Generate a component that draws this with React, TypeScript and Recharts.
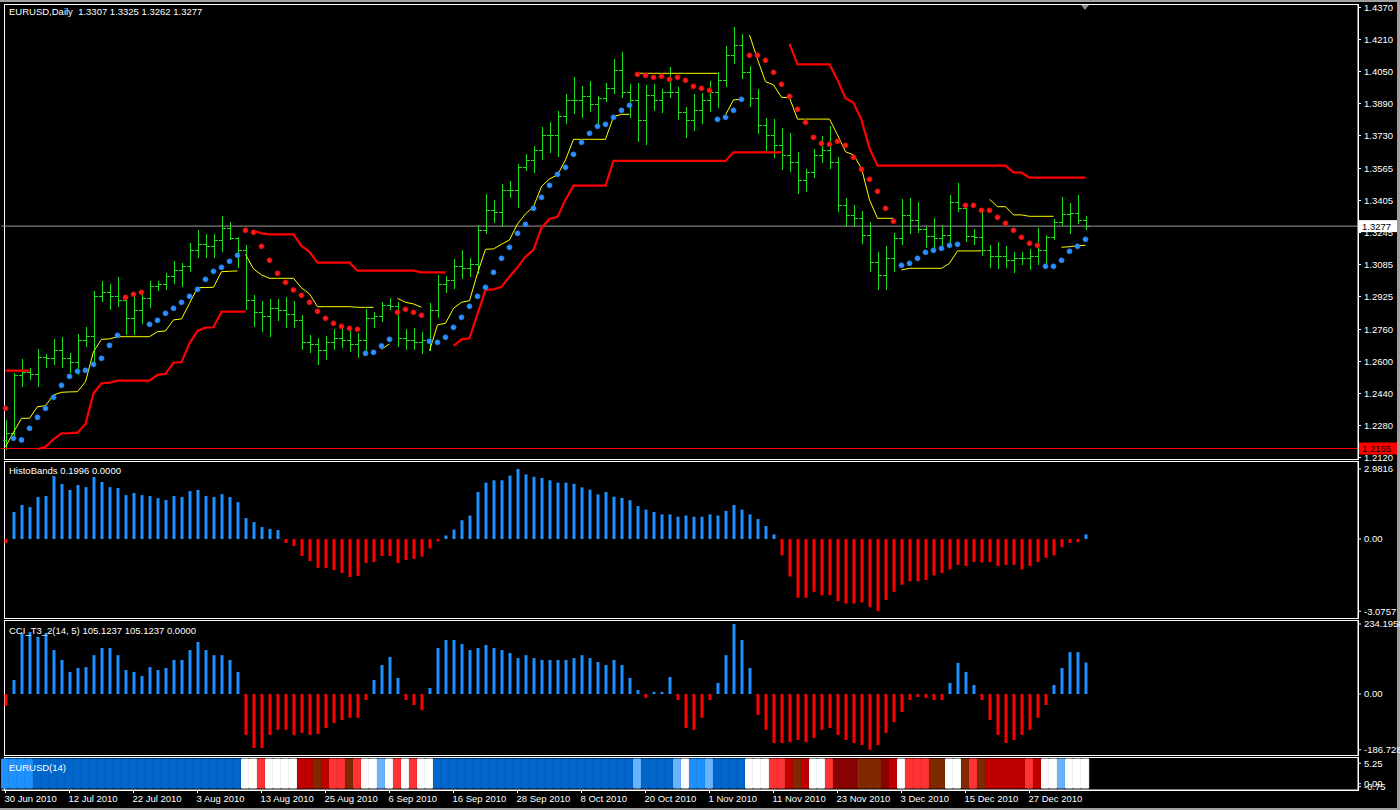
import React from 'react';
import { ComposedChart, Bar, Line, XAxis, YAxis, Cell, ReferenceLine } from 'recharts';

const FONT = '"Liberation Sans", Arial, sans-serif';
const SLOTS = 169;
const GREEN = '#1AE01A';
const BLUE = '#1E90FF';
const RED = '#FF0000';

// ---------- time axis ----------
const dateTicks = [0, 8, 16, 24, 32, 40, 48, 56, 64, 72, 80, 88, 96, 104, 112, 120, 128];
const dateLabels = [
  '30 Jun 2010', '12 Jul 2010', '22 Jul 2010', '3 Aug 2010', '13 Aug 2010', '25 Aug 2010',
  '6 Sep 2010', '16 Sep 2010', '28 Sep 2010', '8 Oct 2010', '20 Oct 2010', '1 Nov 2010',
  '11 Nov 2010', '23 Nov 2010', '3 Dec 2010', '15 Dec 2010', '27 Dec 2010',
];

// ---------- price bars (EURUSD daily) ----------
const open = [
  1.2208, 1.2243, 1.2533, 1.2548, 1.2538, 1.2623, 1.2618, 1.2658, 1.2618, 1.2598,
  1.2708, 1.2728, 1.2928, 1.2948, 1.2928, 1.2908, 1.2818, 1.2858, 1.2918, 1.2978,
  1.2988, 1.3028, 1.3058, 1.3078, 1.3158, 1.3188, 1.3178, 1.3208, 1.3268, 1.3218,
  1.3158, 1.2908, 1.2848, 1.2828, 1.2868, 1.2858, 1.2838, 1.2808, 1.2698, 1.2688,
  1.2658, 1.2698, 1.2718, 1.2708, 1.2688, 1.2708, 1.2818, 1.2828, 1.2883, 1.2878,
  1.2718, 1.2708, 1.2698, 1.2708, 1.2858, 1.2988, 1.3008, 1.3078, 1.3068, 1.3088,
  1.3258, 1.3358, 1.3348, 1.3458, 1.3458, 1.3573, 1.3608, 1.3658, 1.3733, 1.3733,
  1.3828, 1.3908, 1.3908, 1.3928, 1.3888, 1.3918, 1.3968, 1.4058, 1.3948, 1.3908,
  1.3808, 1.3933, 1.3908, 1.3948, 1.3948, 1.3848, 1.3808, 1.3858, 1.3908, 1.3948,
  1.4008, 1.4133, 1.4183, 1.4048, 1.3918, 1.3783, 1.3733, 1.3683, 1.3633, 1.3598,
  1.3508, 1.3548, 1.3633, 1.3658, 1.3598, 1.3383, 1.3333, 1.3318, 1.3233, 1.3098,
  1.3033, 1.3118, 1.3218, 1.3333, 1.3308, 1.3263, 1.3228, 1.3218, 1.3233, 1.3398,
  1.3368, 1.3228, 1.3223, 1.3158, 1.3128, 1.3128, 1.3108, 1.3118, 1.3118, 1.3128,
  1.3158, 1.3223, 1.3298, 1.3338, 1.3343, 1.3307,
];
const high = [
  1.2308, 1.2543, 1.2613, 1.2568, 1.2663, 1.2638, 1.2713, 1.2723, 1.2643, 1.2738,
  1.2773, 1.2953, 1.3003, 1.2988, 1.3023, 1.2933, 1.2943, 1.2958, 1.3003, 1.3003,
  1.3043, 1.3103, 1.3093, 1.3193, 1.3258, 1.3238, 1.3238, 1.3328, 1.3298, 1.3223,
  1.3183, 1.2933, 1.2903, 1.2913, 1.2913, 1.2923, 1.2903, 1.2833, 1.2733, 1.2718,
  1.2728, 1.2763, 1.2773, 1.2758, 1.2743, 1.2863, 1.2848, 1.2898, 1.2918, 1.2898,
  1.2763, 1.2768, 1.2748, 1.2893, 1.3033, 1.3028, 1.3113, 1.3158, 1.3118, 1.3283,
  1.3438, 1.3408, 1.3488, 1.3503, 1.3588, 1.3638, 1.3678, 1.3773, 1.3798, 1.3853,
  1.3938, 1.4023, 1.3978, 1.4003, 1.3928, 1.3993, 1.4113, 1.4148, 1.3988, 1.3993,
  1.3983, 1.3988, 1.3963, 1.4073, 1.3973, 1.3873, 1.3938, 1.3943, 1.4003, 1.4048,
  1.4178, 1.4273, 1.4238, 1.4078, 1.3963, 1.3818, 1.3813, 1.3768, 1.3743, 1.3648,
  1.3563, 1.3663, 1.3728, 1.3778, 1.3623, 1.3418, 1.3383, 1.3353, 1.3298, 1.3148,
  1.3178, 1.3243, 1.3413, 1.3418, 1.3398, 1.3278, 1.3318, 1.3283, 1.3433, 1.3493,
  1.3378, 1.3263, 1.3353, 1.3183, 1.3198, 1.3178, 1.3148, 1.3148, 1.3163, 1.3268,
  1.3233, 1.3313, 1.3423, 1.3393, 1.3433, 1.3325,
];
const low = [
  1.2165, 1.2213, 1.2478, 1.2513, 1.2478, 1.2573, 1.2588, 1.2573, 1.2548, 1.2538,
  1.2678, 1.2588, 1.2903, 1.2863, 1.2878, 1.2738, 1.2738, 1.2793, 1.2873, 1.2958,
  1.2963, 1.2993, 1.2978, 1.3053, 1.3123, 1.3123, 1.3123, 1.3153, 1.3213, 1.3073,
  1.2863, 1.2778, 1.2753, 1.2728, 1.2808, 1.2773, 1.2773, 1.2663, 1.2648, 1.2588,
  1.2613, 1.2663, 1.2673, 1.2653, 1.2623, 1.2658, 1.2773, 1.2803, 1.2863, 1.2678,
  1.2663, 1.2663, 1.2643, 1.2658, 1.2823, 1.2948, 1.2968, 1.3018, 1.3028, 1.3043,
  1.3243, 1.3298, 1.3278, 1.3423, 1.3373, 1.3558, 1.3548, 1.3613, 1.3648, 1.3628,
  1.3793, 1.3843, 1.3823, 1.3853, 1.3788, 1.3903, 1.3943, 1.3923, 1.3823, 1.3703,
  1.3688, 1.3858, 1.3848, 1.3923, 1.3813, 1.3723, 1.3758, 1.3793, 1.3853, 1.3873,
  1.3978, 1.4093, 1.4018, 1.3878, 1.3743, 1.3658, 1.3623, 1.3563, 1.3553, 1.3443,
  1.3453, 1.3523, 1.3598, 1.3568, 1.3353, 1.3278, 1.3278, 1.3193, 1.3053, 1.2963,
  1.2963, 1.3053, 1.3188, 1.3243, 1.3248, 1.3173, 1.3158, 1.3173, 1.3193, 1.3353,
  1.3203, 1.3188, 1.3133, 1.3073, 1.3068, 1.3073, 1.3048, 1.3088, 1.3063, 1.3088,
  1.3088, 1.3213, 1.3283, 1.3243, 1.3293, 1.3262,
];
const close = [
  1.2243, 1.2533, 1.2548, 1.2538, 1.2623, 1.2618, 1.2658, 1.2618, 1.2598, 1.2708,
  1.2728, 1.2928, 1.2948, 1.2928, 1.2908, 1.2818, 1.2858, 1.2918, 1.2978, 1.2988,
  1.3028, 1.3058, 1.3078, 1.3158, 1.3188, 1.3178, 1.3208, 1.3268, 1.3218, 1.3158,
  1.2908, 1.2848, 1.2828, 1.2868, 1.2858, 1.2838, 1.2808, 1.2698, 1.2688, 1.2658,
  1.2698, 1.2718, 1.2708, 1.2688, 1.2708, 1.2818, 1.2828, 1.2883, 1.2878, 1.2718,
  1.2708, 1.2698, 1.2708, 1.2858, 1.2988, 1.3008, 1.3078, 1.3068, 1.3088, 1.3258,
  1.3358, 1.3348, 1.3458, 1.3458, 1.3573, 1.3608, 1.3658, 1.3733, 1.3733, 1.3828,
  1.3908, 1.3908, 1.3928, 1.3888, 1.3918, 1.3968, 1.4058, 1.3948, 1.3908, 1.3808,
  1.3933, 1.3908, 1.3948, 1.3948, 1.3848, 1.3808, 1.3858, 1.3908, 1.3948, 1.4008,
  1.4133, 1.4183, 1.4048, 1.3918, 1.3783, 1.3733, 1.3683, 1.3633, 1.3598, 1.3508,
  1.3548, 1.3633, 1.3658, 1.3598, 1.3383, 1.3333, 1.3318, 1.3233, 1.3098, 1.3033,
  1.3118, 1.3218, 1.3333, 1.3308, 1.3263, 1.3228, 1.3218, 1.3233, 1.3398, 1.3368,
  1.3228, 1.3223, 1.3158, 1.3128, 1.3128, 1.3108, 1.3118, 1.3118, 1.3128, 1.3158,
  1.3223, 1.3298, 1.3338, 1.3343, 1.3307, 1.3277,
];

// ---------- parabolic dots ----------
const sar = [
  1.2366, 1.2216, 1.2208, 1.2266, 1.2321, 1.2366, 1.2421, 1.2481, 1.2526, 1.2551,
  1.2556, 1.2586, 1.2616, 1.2681, 1.2731, 1.2921, 1.2936, 1.2946, 1.2786, 1.2806,
  1.2841, 1.2866, 1.2896, 1.2926, 1.2961, 1.3011, 1.3051, 1.3071, 1.3101, 1.3131,
  1.3256, 1.3246, 1.3176, 1.3106, 1.3041, 1.2996, 1.2958, 1.2931, 1.2896, 1.2851,
  1.2816, 1.2791, 1.2776, 1.2766, 1.2761, 1.2641, 1.2646, 1.2678, 1.2711, 1.2846,
  1.2861, 1.2846, 1.2831, 1.2701, 1.2696, 1.2721, 1.2771, 1.2821, 1.2876, 1.2926,
  1.2971, 1.3046, 1.3116, 1.3171, 1.3241, 1.3286, 1.3366, 1.3421, 1.3481, 1.3536,
  1.3571, 1.3636, 1.3696, 1.3741, 1.3776, 1.3786, 1.3821, 1.3856, 1.3881, 1.4036,
  1.4031, 1.4021, 1.4026, 1.4011, 1.4021, 1.4006, 1.3976, 1.3966, 1.3956, 1.3811,
  1.3821, 1.3856, 1.3911, 1.4131, 1.4131, 1.4106, 1.4046, 1.3986, 1.3926, 1.3861,
  1.3796, 1.3721, 1.3691, 1.3686, 1.3701, 1.3681, 1.3621, 1.3561, 1.3511, 1.3451,
  1.3366, 1.3301, 1.3081, 1.3091, 1.3116, 1.3146, 1.3156, 1.3166, 1.3181, 1.3186,
  1.3381, 1.3381, 1.3356, 1.3356, 1.3321, 1.3291, 1.3256, 1.3221, 1.3191, 1.3181,
  1.3076, 1.3076, 1.3106, 1.3151, 1.3176, 1.3211,
];

// ---------- thin yellow stop line (segments: start index, values) ----------
const yellowSegments: [number, number[]][] = [
  [0, [1.2174, 1.2246, 1.2316, 1.2316, 1.2374, 1.2379, 1.2433, 1.2446, 1.2448, 1.2449,
    1.2499, 1.2649, 1.2711, 1.2713, 1.2724, 1.2724, 1.2724, 1.2724, 1.2724, 1.2749,
    1.2753, 1.2808, 1.2813, 1.2891, 1.2969, 1.2970, 1.2971, 1.3049, 1.3051, 1.3053]],
  [30, [1.3136, 1.3063, 1.3033, 1.3016, 1.3016, 1.3016, 1.3016, 1.2968, 1.2938, 1.2874,
    1.2874, 1.2874, 1.2874, 1.2874, 1.2871, 1.2871, 1.2871]],
  [47, [1.2661, 1.2688]],
  [49, [1.2916, 1.2896, 1.2888, 1.2871]],
  [53, [1.2654, 1.2783, 1.2791, 1.2866, 1.2896, 1.2904, 1.3041, 1.3161, 1.3163, 1.3186,
    1.3208, 1.3288, 1.3338, 1.3374, 1.3475, 1.3513, 1.3533, 1.3608, 1.3711, 1.3711,
    1.3711, 1.3711, 1.3711, 1.3824, 1.3836, 1.3836]],
  [79, [1.4041, 1.4041, 1.4041, 1.4041, 1.4041, 1.4041, 1.4041, 1.4041, 1.4041, 1.4041, 1.4041]],
  [90, [1.3833, 1.3908, 1.3911]],
  [93, [1.4233, 1.4111, 1.3999, 1.3983, 1.3921, 1.3919, 1.3812, 1.3812, 1.3812, 1.3812,
    1.3812, 1.3733, 1.3649, 1.3633, 1.3566, 1.3408, 1.3316, 1.3316, 1.3316]],
  [112, [1.3058, 1.3066, 1.3066, 1.3066, 1.3066, 1.3066, 1.3091, 1.3153, 1.3153, 1.3153, 1.3153]],
  [123, [1.3411, 1.3374, 1.3374, 1.3333, 1.3333, 1.3326, 1.3326, 1.3326, 1.3326]],
  [132, [1.3171, 1.3174, 1.3179, 1.3181]],
];

// ---------- thick red band line (segments) ----------
const redSegments: [number, number[]][] = [
  [0, [1.2554, 1.2554, 1.2554, 1.2554]],
  [4, [1.2161, 1.2174, 1.2211, 1.2241, 1.2242, 1.2244, 1.2288, 1.2441, 1.2491, 1.2494,
    1.2504, 1.2504, 1.2504, 1.2504, 1.2504, 1.2533, 1.2538, 1.2594, 1.2596, 1.2691,
    1.2753, 1.2769, 1.2771, 1.2849, 1.2849, 1.2849, 1.2849]],
  [31, [1.3254, 1.3241, 1.3236, 1.3236, 1.3236, 1.3236, 1.3178, 1.3148, 1.3094, 1.3094,
    1.3094, 1.3094, 1.3094, 1.3054, 1.3054, 1.3054, 1.3054, 1.3054, 1.3054, 1.3054,
    1.3054, 1.3046, 1.3046, 1.3046, 1.3046]],
  [56, [1.2678, 1.2711, 1.2716, 1.2838, 1.2958, 1.2961, 1.2974, 1.3024, 1.3071, 1.3124,
    1.3158, 1.3268, 1.3313, 1.3324, 1.3408, 1.3479, 1.3479, 1.3479, 1.3479, 1.3479,
    1.3603, 1.3603, 1.3603, 1.3603, 1.3603, 1.3603, 1.3603, 1.3603, 1.3603, 1.3603,
    1.3603, 1.3603, 1.3603, 1.3603, 1.3603, 1.3646, 1.3646, 1.3646, 1.3646, 1.3646,
    1.3646, 1.3646]],
  [98, [1.4188, 1.4086, 1.4086, 1.4086, 1.4086, 1.4086, 1.4008, 1.3916, 1.3894, 1.3808,
    1.3666, 1.3579, 1.3579, 1.3579, 1.3579, 1.3579, 1.3579, 1.3579, 1.3579, 1.3579,
    1.3579, 1.3579, 1.3579, 1.3579, 1.3579, 1.3579, 1.3579, 1.3579, 1.3546, 1.3544,
    1.3519, 1.3519, 1.3519, 1.3519, 1.3519, 1.3519, 1.3519, 1.3519]],
];

// ---------- HistoBands ----------
const histo = [
  -0.18, 1.15, 1.45, 1.36, 1.79, 1.83, 2.68, 2.34, 2.09, 2.30,
  2.21, 2.64, 2.43, 2.21, 2.17, 1.87, 1.96, 1.87, 1.83, 1.74,
  1.66, 1.83, 1.79, 2.04, 2.09, 1.83, 1.79, 1.91, 1.79, 1.57,
  0.89, 0.72, 0.51, 0.43, 0.38, -0.17, -0.30, -0.72, -0.94, -1.23,
  -1.23, -1.32, -1.45, -1.62, -1.57, -1.02, -0.98, -0.72, -0.72, -1.02,
  -0.90, -0.85, -0.75, -0.40, -0.10, 0.15, 0.40, 0.80, 1.00, 2.00,
  2.40, 2.50, 2.50, 2.70, 2.9816, 2.75, 2.65, 2.60, 2.50, 2.40,
  2.40, 2.35, 2.20, 2.10, 1.90, 2.00, 1.80, 1.75, 1.65, 1.40,
  1.25, 1.15, 1.05, 1.05, 0.95, 1.00, 0.95, 0.95, 1.05, 1.00,
  1.20, 1.45, 1.25, 1.05, 0.85, 0.55, 0.20, -0.70, -1.60, -2.50,
  -2.50, -2.25, -2.40, -2.40, -2.65, -2.75, -2.75, -2.70, -2.90, -3.0757,
  -2.60, -2.25, -1.95, -1.80, -1.80, -1.75, -1.55, -1.45, -1.30, -1.10,
  -1.15, -0.98, -1.00, -0.98, -1.15, -1.10, -1.10, -1.30, -1.15, -0.98,
  -0.80, -0.70, -0.35, -0.17, -0.13, 0.1996,
];

// ---------- CCI_T3_2(14, 5) ----------
const cci = [
  -40, 47, 204, 207, 191, 204, 147, 114, 74, 87,
  90, 130, 154, 154, 130, 80, 74, 60, 90, 80,
  87, 114, 114, 147, 174, 147, 130, 130, 114, 74,
  -137, -181, -181, -137, -120, -120, -137, -130, -137, -134,
  -114, -97, -87, -80, -80, -20, 47, 97, 124, 54,
  -20, -37, -54, 20, 154, 181, 181, 167, 147, 154,
  164, 154, 147, 137, 120, 130, 120, 114, 114, 114,
  114, 120, 130, 120, 107, 97, 114, 97, 54, 13,
  -13, 7, 7, 57, -20, -114, -120, -80, -20, 37,
  130, 234.1958, 181, 87, -70, -120, -164, -164, -161, -154,
  -161, -147, -120, -114, -137, -154, -164, -171, -186.728, -171,
  -130, -94, -60, -20, -10, -13, -20, -20, 37, 104,
  74, 30, -20, -87, -137, -164, -154, -137, -120, -80,
  -37, 30, 87, 140, 140, 105.1237,
];

// ---------- EURUSD(14) colour strip ----------
const stripCodes = [
  'D', 'D', 'D', 'D', 'B', 'B', 'B', 'B', 'B', 'B',
  'B', 'B', 'B', 'B', 'B', 'B', 'B', 'B', 'B', 'B',
  'B', 'B', 'B', 'B', 'B', 'B', 'B', 'B', 'B', 'B',
  'W', 'W', 'R', 'W', 'W', 'W', 'W', 'C', 'C', 'N',
  'C', 'R', 'R', 'N', 'R', 'W', 'W', 'L', 'W', 'R',
  'W', 'R', 'W', 'W', 'B', 'B', 'B', 'B', 'B', 'B',
  'B', 'B', 'B', 'B', 'B', 'B', 'B', 'B', 'B', 'B',
  'B', 'B', 'B', 'B', 'B', 'B', 'B', 'B', 'B', 'L',
  'B', 'B', 'B', 'B', 'L', 'W', 'D', 'D', 'L', 'B',
  'B', 'B', 'B', 'W', 'W', 'W', 'R', 'R', 'C', 'N',
  'C', 'W', 'W', 'R', 'K', 'K', 'K', 'N', 'N', 'N',
  'K', 'C', 'W', 'R', 'R', 'R', 'N', 'N', 'W', 'W',
  'N', 'R', 'N', 'C', 'C', 'C', 'C', 'C', 'R', 'C',
  'W', 'W', 'L', 'W', 'W', 'W',
];
const stripPalette: Record<string, string> = {
  B: '#0066CC', D: '#1E90FF', L: '#6AB4FF', W: '#FFFFFF',
  R: '#FF3333', C: '#C00000', K: '#8B0000', N: '#802800',
};
const STRIP_RANGE = [-1.1, 6.35];

// ---------- axis ticks ----------
const priceTicks = [1.4370, 1.4210, 1.4050, 1.3890, 1.3730, 1.3565, 1.3405, 1.3245,
  1.3085, 1.2925, 1.2760, 1.2600, 1.2440, 1.2280, 1.2120];
const histTicks = [2.9816, 0, -3.0757];
const cciTicks = [234.1958, 0, -186.728];
const stripTicks = [5.25, 0, -0.75];
const BID = 1.3277;
const LOW_MARK = 1.2165;

// ---------- build table ----------
const spread = (segs: [number, number[]][]) => {
  const a: (number | null)[] = new Array(SLOTS).fill(null);
  const b: (number | null)[] = new Array(SLOTS).fill(null);
  segs.forEach(([start, vals], k) => {
    const t = k % 2 === 0 ? a : b;
    vals.forEach((v, j) => { t[start + j] = v; });
  });
  return [a, b];
};
const [yellowA, yellowB] = spread(yellowSegments);
const [redA, redB] = spread(redSegments);

const rows = Array.from({ length: SLOTS }, (_, i) => {
  const has = i < close.length;
  return {
    i,
    o: has ? open[i] : null,
    h: has ? high[i] : null,
    l: has ? low[i] : null,
    c: has ? close[i] : null,
    sar: has ? sar[i] : null,
    ya: yellowA[i],
    yb: yellowB[i],
    ra: redA[i],
    rb: redB[i],
    hb: has ? histo[i] : null,
    cci: has ? cci[i] : null,
    strip: has ? STRIP_RANGE : null,
    code: has ? stripCodes[i] : null,
  };
});

// ---------- renderers ----------
const OhlcShape = (props: any) => {
  const { x, y, width, height, payload } = props;
  if (!payload || payload.h == null || x == null || y == null) return <g />;
  const top = Math.min(y, y + height);
  const bottom = Math.max(y, y + height);
  const span = payload.h - payload.l;
  const py = (v: number) => (span === 0 ? top : top + ((payload.h - v) / span) * (bottom - top));
  const cx = Math.floor(x + width / 2) + 0.5;
  const yo = Math.round(py(payload.o)) + 0.5;
  const yc = Math.round(py(payload.c)) + 0.5;
  return (
    <g>
      <line x1={cx} x2={cx} y1={Math.round(top)} y2={Math.round(bottom) + 1} stroke={GREEN} strokeWidth={1} />
      <line x1={cx - 3.5} x2={cx} y1={yo} y2={yo} stroke={GREEN} strokeWidth={1} />
      <line x1={cx} x2={cx + 3.5} y1={yc} y2={yc} stroke={GREEN} strokeWidth={1} />
    </g>
  );
};

const renderSarDot = (props: any) => {
  const { cx, cy, payload, index } = props;
  if (cx == null || cy == null || !payload || payload.sar == null) return <g key={`s${index}`} />;
  const above = payload.sar > payload.c;
  return (
    <circle key={`s${index}`} cx={cx} cy={cy} r={2.6}
      fill={above ? '#FF1A1A' : '#2E8FFF'} stroke={above ? '#B40000' : '#1C6CCC'} strokeWidth={0.6} />
  );
};

const DateTick = (props: any) => {
  const { x, y, payload } = props;
  const k = dateTicks.indexOf(payload.value);
  if (k < 0) return <g />;
  return (
    <text x={x - 1} y={y + 7} fill="#FFFFFF" fontSize={9.5} fontFamily={FONT} textAnchor="start">
      {dateLabels[k]}
    </text>
  );
};

const priceBox = (label: string, bg: string, fg: string) => (p: any) => {
  const vb = p.viewBox || {};
  const x = (vb.x ?? 0) + (vb.width ?? 0) + 1;
  const y = vb.y ?? 0;
  return (
    <g>
      <rect x={x} y={y - 6} width={38} height={12} fill={bg} />
      <text x={x + 3} y={y + 3.5} fill={fg} fontSize={9.5} fontFamily={FONT}>{label}</text>
    </g>
  );
};

const tickStyle = { fill: '#FFFFFF', fontSize: 9.5, fontFamily: FONT };
const X_PAD = { left: 0, right: 4.5 };
const margin = (top: number, bottom: number) => ({ top, right: 0, bottom, left: 1.5 });

const hiddenX = <XAxis dataKey="i" type="category" hide padding={X_PAD} />;

const rightAxis = (domain: number[], ticks: number[], fmt: (v: number) => string) => (
  <YAxis orientation="right" type="number" width={42} domain={domain} allowDataOverflow
    ticks={ticks} interval={0} tickFormatter={fmt} tick={tickStyle}
    tickSize={3} tickMargin={3} axisLine={{ stroke: '#FFFFFF' }} tickLine={{ stroke: '#FFFFFF' }} />
);

const fmt4 = (v: number) => (v === 0 ? '0.00' : v.toFixed(4));
const fmtCci = (v: number) => (v === 0 ? '0.00' : String(v));
const fmtStrip = (v: number) => (v === 0 ? '0.00' : v.toFixed(2));

const textStyle: React.CSSProperties = {
  position: 'absolute', color: '#FFFFFF', fontFamily: FONT, fontSize: 9.5,
  lineHeight: '11px', whiteSpace: 'pre', pointerEvents: 'none',
};
const frame = (top: number, height: number): React.CSSProperties => ({
  position: 'absolute', left: 4, top, width: 1355, height, border: '1px solid #FFFFFF',
  boxSizing: 'border-box',
});

export default function App() {
  return (
    <div style={{ position: 'absolute', left: 0, top: 0, width: 1400, height: 810, background: '#000000', overflow: 'hidden' }}>
      <div style={{ position: 'absolute', left: 0, top: 0, width: 1400, height: 2, background: '#A0A0A0' }} />
      <div style={{ position: 'absolute', left: 1397, top: 0, width: 3, height: 810, background: '#A0A0A0' }} />
      <div style={{ position: 'absolute', left: 0, top: 808, width: 1400, height: 2, background: '#A0A0A0' }} />

      <div style={frame(4, 456)} />
      <div style={frame(461, 158)} />
      <div style={frame(620, 136)} />
      <div style={frame(757, 34)} />

      {/* main price panel: plot y 5..459 */}
      <div style={{ position: 'absolute', left: 0, top: 0 }}>
        <ComposedChart width={1400} height={465} data={rows} margin={margin(5, 6)}>
          {hiddenX}
          {rightAxis([1.21125, 1.43825], priceTicks, (v) => v.toFixed(4))}
          <ReferenceLine y={LOW_MARK} stroke="#FF0000" strokeWidth={1} label={priceBox('1.2165', '#FF0000', '#000000')} />
          <ReferenceLine y={BID} stroke="#9A9A9A" strokeWidth={1} label={priceBox('1.3277', '#FFFFFF', '#000000')} />
          <Line dataKey="ra" stroke={RED} strokeWidth={2.2} dot={false} connectNulls={false} isAnimationActive={false} type="linear" />
          <Line dataKey="rb" stroke={RED} strokeWidth={2.2} dot={false} connectNulls={false} isAnimationActive={false} type="linear" />
          <Line dataKey="ya" stroke="#FFFF00" strokeWidth={1} dot={false} connectNulls={false} isAnimationActive={false} type="linear" />
          <Line dataKey="yb" stroke="#FFFF00" strokeWidth={1} dot={false} connectNulls={false} isAnimationActive={false} type="linear" />
          <Bar dataKey={(d: any) => (d.h == null ? null : [d.l, d.h])} barSize={7} shape={OhlcShape} isAnimationActive={false} />
          <Line dataKey="sar" stroke="none" dot={renderSarDot} activeDot={false} isAnimationActive={false} />
        </ComposedChart>
      </div>

      {/* HistoBands: plot y 462..618 */}
      <div style={{ position: 'absolute', left: 0, top: 455 }}>
        <ComposedChart width={1400} height={169} data={rows} margin={margin(7, 6)}>
          {hiddenX}
          {rightAxis([-3.3646, 3.2797], histTicks, fmt4)}
          <Bar dataKey="hb" barSize={3} isAnimationActive={false}>
            {rows.map((r) => (
              <Cell key={`h${r.i}`} fill={r.hb != null && r.hb < 0 ? RED : BLUE} />
            ))}
          </Bar>
        </ComposedChart>
      </div>

      {/* CCI: plot y 620..755 */}
      <div style={{ position: 'absolute', left: 0, top: 613 }}>
        <ComposedChart width={1400} height={148} data={rows} margin={margin(7, 6)}>
          {hiddenX}
          {rightAxis([-204.08, 247.58], cciTicks, fmtCci)}
          <Bar dataKey="cci" barSize={3} isAnimationActive={false}>
            {rows.map((r) => (
              <Cell key={`c${r.i}`} fill={r.cci != null && r.cci < 0 ? RED : BLUE} />
            ))}
          </Bar>
        </ComposedChart>
      </div>

      {/* colour strip + time axis: plot y 758..790 */}
      <div style={{ position: 'absolute', left: 0, top: 751 }}>
        <ComposedChart width={1400} height={59} data={rows} margin={margin(7, 0)}>
          <XAxis dataKey="i" type="category" padding={X_PAD} height={20} ticks={dateTicks} interval={0}
            tick={<DateTick />} tickSize={3} tickMargin={2}
            axisLine={{ stroke: '#FFFFFF' }} tickLine={{ stroke: '#FFFFFF' }} />
          {rightAxis([-1.6, 6.6], stripTicks, fmtStrip)}
          <Bar dataKey="strip" barSize={8} isAnimationActive={false}>
            {rows.map((r) => {
              const col = r.code ? stripPalette[r.code] : 'transparent';
              return <Cell key={`p${r.i}`} fill={col} stroke={col} strokeWidth={1} />;
            })}
          </Bar>
        </ComposedChart>
      </div>

      <div style={{ position: 'absolute', left: 1081, top: 5, width: 0, height: 0,
        borderLeft: '4px solid transparent', borderRight: '4px solid transparent', borderTop: '5px solid #8A8A8A' }} />

      <div style={{ ...textStyle, left: 9, top: 6 }}>EURUSD,Daily  1.3307 1.3325 1.3262 1.3277</div>
      <div style={{ ...textStyle, left: 9, top: 465 }}>HistoBands 0.1996 0.0000</div>
      <div style={{ ...textStyle, left: 9, top: 625 }}>CCI_T3_2(14, 5) 105.1237 105.1237 0.0000</div>
      <div style={{ ...textStyle, left: 9, top: 762 }}>EURUSD(14)</div>
    </div>
  );
}
